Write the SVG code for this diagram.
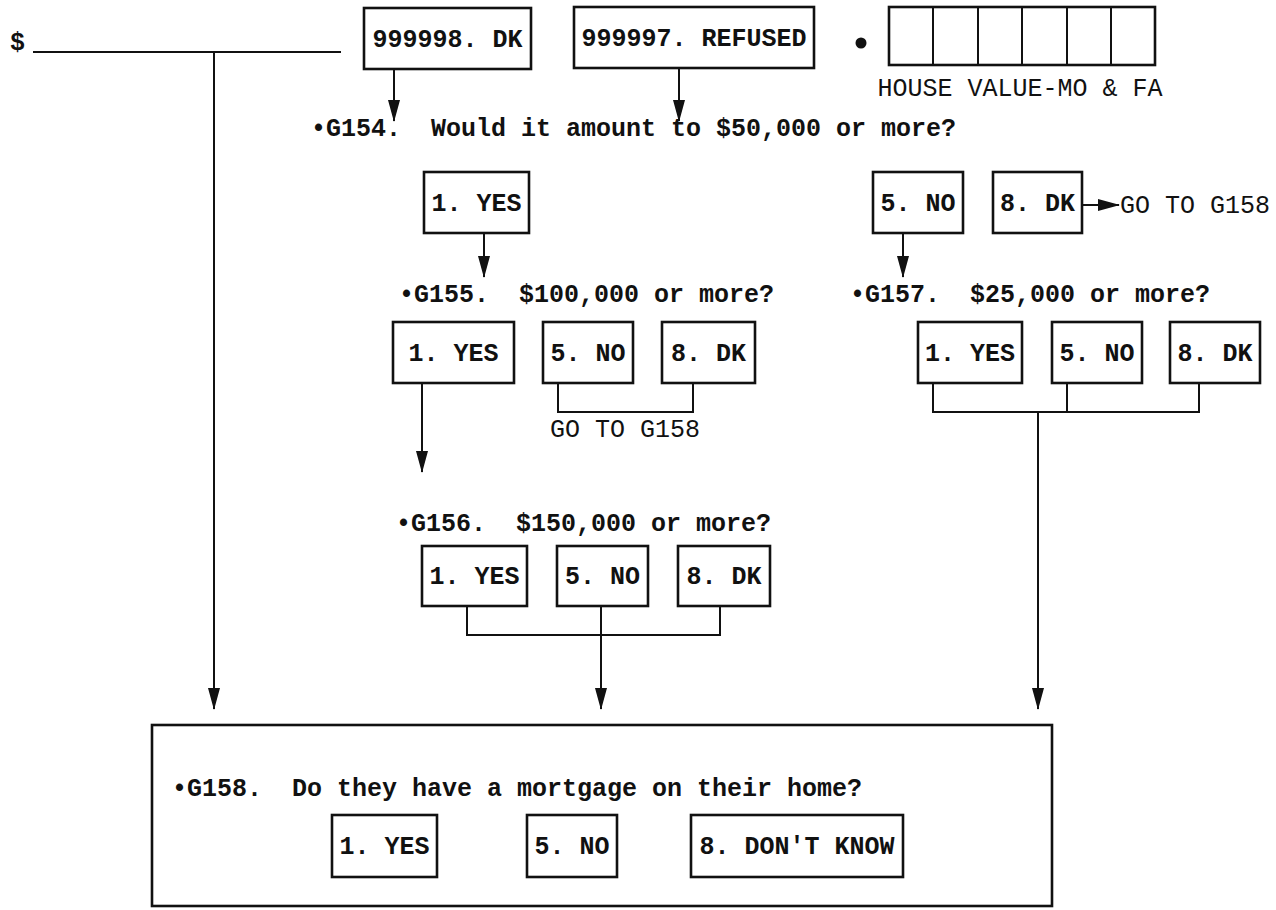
<svg xmlns="http://www.w3.org/2000/svg" width="1276" height="910" viewBox="0 0 1276 910">
<defs>
<style>
.b{fill:#fff;stroke:#111;stroke-width:2.6}
.t{font-family:"Liberation Mono","DejaVu Sans Mono",monospace;font-size:25px;font-weight:bold;fill:#111;white-space:pre}
.q{font-family:"Liberation Mono","DejaVu Sans Mono",monospace;font-size:25px;font-weight:bold;fill:#111;white-space:pre}
.n{font-family:"Liberation Mono","DejaVu Sans Mono",monospace;font-size:25px;font-weight:normal;fill:#111;white-space:pre}
.c{fill:none;stroke:#111;stroke-width:2}
.a{fill:none;stroke:#111;stroke-width:2;marker-end:url(#ah)}
</style>
<marker id="ah" markerUnits="userSpaceOnUse" markerWidth="22" markerHeight="12" refX="21" refY="6" orient="auto">
<path d="M0,0 L22,6 L0,12 z" fill="#111"/>
</marker>
</defs>
<rect width="1276" height="910" fill="#fff"/>

<g id="dollar">
<text class="t" x="10" y="50">$</text>
</g>

<g id="dk999998">
<rect class="b" x="364" y="8" width="167" height="61"/>
<text class="t" x="447.5" y="47" text-anchor="middle">999998. DK</text>
</g>

<g id="refused999997">
<rect class="b" x="574" y="7" width="240" height="61"/>
<text class="t" x="694" y="46" text-anchor="middle">999997. REFUSED</text>
</g>

<g id="housevalue">
<circle cx="861" cy="43" r="5.5" fill="#111"/>
<rect class="b" x="889" y="7" width="266" height="58"/>
<path class="c" d="M933,7V65M978,7V65M1022,7V65M1067,7V65M1111,7V65"/>
<text class="n" x="1020" y="96" text-anchor="middle">HOUSE VALUE-MO &amp; FA</text>
</g>

<g id="g154">
<text class="q" x="311" y="136" xml:space="preserve">•G154.  Would it amount to $50,000 or more?</text>
</g>
<g id="g154-yes">
<rect class="b" x="424" y="172" width="105" height="61"/>
<text class="t" x="476.5" y="211" text-anchor="middle">1. YES</text>
</g>
<g id="g154-no">
<rect class="b" x="873" y="172" width="90" height="61"/>
<text class="t" x="918" y="211" text-anchor="middle">5. NO</text>
</g>
<g id="g154-dk">
<rect class="b" x="993" y="172" width="89" height="61"/>
<text class="t" x="1037.5" y="211" text-anchor="middle">8. DK</text>
</g>
<g id="g154-dk-goto">
<text class="n" x="1120" y="213">GO TO G158</text>
</g>

<g id="g155">
<text class="q" x="399" y="302" xml:space="preserve">•G155.  $100,000 or more?</text>
</g>
<g id="g155-yes">
<rect class="b" x="393" y="322" width="121" height="61"/>
<text class="t" x="453.5" y="361" text-anchor="middle">1. YES</text>
</g>
<g id="g155-no">
<rect class="b" x="543" y="322" width="90" height="61"/>
<text class="t" x="588" y="361" text-anchor="middle">5. NO</text>
</g>
<g id="g155-dk">
<rect class="b" x="662" y="322" width="93" height="61"/>
<text class="t" x="708.5" y="361" text-anchor="middle">8. DK</text>
</g>
<g id="g155-goto">
<text class="n" x="625" y="437" text-anchor="middle">GO TO G158</text>
</g>

<g id="g157">
<text class="q" x="850" y="302" xml:space="preserve">•G157.  $25,000 or more?</text>
</g>
<g id="g157-yes">
<rect class="b" x="918" y="322" width="104" height="61"/>
<text class="t" x="970" y="361" text-anchor="middle">1. YES</text>
</g>
<g id="g157-no">
<rect class="b" x="1052" y="322" width="90" height="61"/>
<text class="t" x="1097" y="361" text-anchor="middle">5. NO</text>
</g>
<g id="g157-dk">
<rect class="b" x="1170" y="322" width="90" height="61"/>
<text class="t" x="1215" y="361" text-anchor="middle">8. DK</text>
</g>

<g id="g156">
<text class="q" x="396" y="531" xml:space="preserve">•G156.  $150,000 or more?</text>
</g>
<g id="g156-yes">
<rect class="b" x="422" y="546" width="105" height="60"/>
<text class="t" x="474.5" y="584" text-anchor="middle">1. YES</text>
</g>
<g id="g156-no">
<rect class="b" x="557" y="546" width="91" height="60"/>
<text class="t" x="602.5" y="584" text-anchor="middle">5. NO</text>
</g>
<g id="g156-dk">
<rect class="b" x="678" y="546" width="92" height="60"/>
<text class="t" x="724" y="584" text-anchor="middle">8. DK</text>
</g>

<g id="g158">
<rect class="b" x="152" y="725" width="900" height="181"/>
<text class="q" x="172" y="796" xml:space="preserve">•G158.  Do they have a mortgage on their home?</text>
</g>
<g id="g158-yes">
<rect class="b" x="332" y="815" width="105" height="62"/>
<text class="t" x="384.5" y="854" text-anchor="middle">1. YES</text>
</g>
<g id="g158-no">
<rect class="b" x="527" y="815" width="90" height="62"/>
<text class="t" x="572" y="854" text-anchor="middle">5. NO</text>
</g>
<g id="g158-dk">
<rect class="b" x="691" y="815" width="212" height="62"/>
<text class="t" x="797" y="854" text-anchor="middle">8. DON'T KNOW</text>
</g>

<g id="connectors">
<path class="c" d="M33,52H341"/>
<path class="a" d="M214,52V709"/>
<path class="a" d="M394,69V121"/>
<path class="a" d="M679,68V121"/>
<path class="a" d="M484,233V277"/>
<path class="a" d="M903,233V277"/>
<path class="a" d="M1082,205H1119"/>
<path class="c" d="M558,383V412H693V383"/>
<path class="a" d="M422,383V472"/>
<path class="c" d="M467,606V635H720V606M601,606V635"/>
<path class="a" d="M601,635V709"/>
<path class="c" d="M933,383V412H1199V383M1067,383V412"/>
<path class="a" d="M1038,412V709"/>
</g>
</svg>
